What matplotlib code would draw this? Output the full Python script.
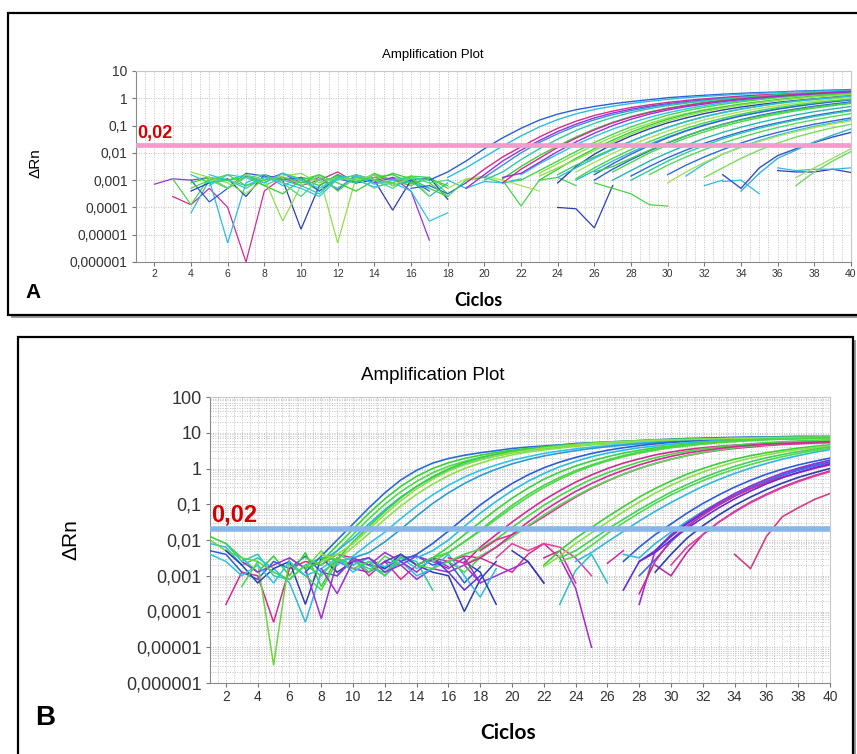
import numpy as np
import matplotlib
matplotlib.use("Agg")
import matplotlib.pyplot as plt
from matplotlib import font_manager
from matplotlib.patches import Rectangle
from matplotlib.ticker import FixedLocator, NullFormatter, MultipleLocator

W, H = 857, 754

# ---------------- data: panel A (log10 of delta Rn, one list per well) ----------------
a_threshold = 0.02
a_yticks = [1e-6, 1e-5, 1e-4, 1e-3, 1e-2, 1e-1, 1, 10]
a_ytick_labels = ["0,000001", "0,00001", "0,0001", "0,001", "0,01", "0,1", "1", "10"]
cycle_ticks = list(range(2, 41, 2))

a_amp_start = [17, 18, 19, 19, 20, 20, 21, 22, 22, 23, 24, 24, 25, 25, 26, 27, 27, 28, 29, 31, 32, 33, 34, 37, 37,
               21, 21, 23, 23, 24, 25, 26, 26, 28, 30, 30]
a_amp_logs = [
    [-3.0, -2.7, -2.3, -1.85, -1.45, -1.1, -0.8, -0.58, -0.42, -0.3, -0.2, -0.12, -0.05, 0.02, 0.07, 0.11, 0.15, 0.18, 0.21, 0.23, 0.26, 0.28, 0.3, 0.32],
    [-2.9, -2.55, -2.15, -1.75, -1.38, -1.05, -0.78, -0.57, -0.41, -0.29, -0.19, -0.11, -0.04, 0.02, 0.07, 0.11, 0.15, 0.18, 0.21, 0.24, 0.26, 0.28, 0.3],
    [-3.1, -2.6, -2.15, -1.78, -1.42, -1.1, -0.84, -0.63, -0.47, -0.34, -0.24, -0.15, -0.08, -0.02, 0.03, 0.08, 0.12, 0.15, 0.18, 0.2, 0.22, 0.24],
    [-3.3, -2.8, -2.3, -1.9, -1.55, -1.22, -0.95, -0.72, -0.54, -0.4, -0.29, -0.2, -0.12, -0.06, -0.01, 0.04, 0.08, 0.11, 0.14, 0.17, 0.19, 0.21],
    [-2.9, -2.45, -2.0, -1.62, -1.3, -1.02, -0.79, -0.6, -0.45, -0.33, -0.23, -0.15, -0.08, -0.02, 0.03, 0.07, 0.11, 0.14, 0.17, 0.2, 0.22],
    [-3.0, -2.7, -2.25, -1.85, -1.5, -1.18, -0.92, -0.7, -0.52, -0.38, -0.27, -0.18, -0.1, -0.03, 0.03, 0.08, 0.13, 0.17, 0.21, 0.24, 0.27],
    [-2.95, -2.5, -2.1, -1.75, -1.42, -1.13, -0.88, -0.67, -0.5, -0.36, -0.25, -0.15, -0.07, 0.0, 0.06, 0.11, 0.15, 0.19, 0.22, 0.25],
    [-2.8, -2.4, -2.05, -1.7, -1.4, -1.13, -0.9, -0.7, -0.53, -0.39, -0.27, -0.17, -0.09, -0.02, 0.04, 0.09, 0.13, 0.17, 0.2],
    [-3.0, -2.65, -2.3, -1.95, -1.62, -1.32, -1.05, -0.82, -0.62, -0.46, -0.33, -0.22, -0.13, -0.05, 0.02, 0.08, 0.13, 0.18, 0.22],
    [-2.75, -2.4, -2.05, -1.72, -1.42, -1.15, -0.92, -0.72, -0.56, -0.42, -0.31, -0.21, -0.13, -0.06, 0.0, 0.06, 0.11, 0.15],
    [-3.1, -2.5, -2.05, -1.68, -1.38, -1.12, -0.9, -0.72, -0.56, -0.43, -0.32, -0.23, -0.15, -0.08, -0.02, 0.04, 0.1],
    [-2.8, -2.45, -2.15, -1.85, -1.57, -1.3, -1.06, -0.85, -0.67, -0.52, -0.39, -0.28, -0.18, -0.1, -0.03, 0.03, 0.09],
    [-2.7, -2.35, -2.02, -1.72, -1.45, -1.2, -0.98, -0.79, -0.63, -0.49, -0.37, -0.27, -0.18, -0.1, -0.03, 0.03],
    [-3.0, -2.65, -2.3, -1.98, -1.68, -1.42, -1.18, -0.97, -0.79, -0.63, -0.5, -0.38, -0.28, -0.19, -0.11, -0.04],
    [-2.8, -2.4, -2.05, -1.73, -1.45, -1.2, -0.99, -0.81, -0.65, -0.52, -0.4, -0.3, -0.21, -0.13, -0.06],
    [-2.7, -2.35, -2.0, -1.72, -1.46, -1.23, -1.03, -0.86, -0.71, -0.58, -0.46, -0.36, -0.27, -0.19],
    [-3.0, -2.65, -2.3, -2.0, -1.72, -1.47, -1.25, -1.06, -0.89, -0.74, -0.61, -0.49, -0.39, -0.3],
    [-2.85, -2.5, -2.18, -1.9, -1.65, -1.43, -1.23, -1.05, -0.9, -0.76, -0.63, -0.52, -0.42],
    [-2.8, -2.45, -2.15, -1.88, -1.64, -1.43, -1.24, -1.07, -0.92, -0.79, -0.67, -0.56],
    [-2.85, -2.4, -2.05, -1.78, -1.55, -1.35, -1.18, -1.03, -0.9, -0.78],
    [-2.9, -2.55, -2.2, -1.9, -1.64, -1.42, -1.24, -1.08, -0.95],
    [-2.8, -3.3, -2.55, -2.1, -1.85, -1.62, -1.42, -1.25],
    [-3.4, -2.75, -2.2, -1.9, -1.6, -1.35, -1.12],
    [-3.2, -2.7, -2.3, -1.95],
    [-2.9, -2.55, -2.2, -1.85],
    [-3.1, -2.6, -2.2, -1.8, -1.46, -1.16, -0.9, -0.69, -0.52, -0.38, -0.27, -0.17, -0.09, -0.02, 0.04, 0.09, 0.14, 0.18, 0.22, 0.26],
    [-2.9, -2.75, -2.35, -1.95, -1.6, -1.28, -1.0, -0.77, -0.58, -0.43, -0.31, -0.21, -0.12, -0.05, 0.01, 0.07, 0.12, 0.16, 0.2, 0.23],
    [-3.0, -2.6, -2.2, -1.85, -1.53, -1.24, -0.99, -0.77, -0.59, -0.44, -0.32, -0.22, -0.13, -0.05, 0.02, 0.08, 0.13, 0.18],
    [-2.85, -2.55, -2.25, -1.92, -1.6, -1.31, -1.05, -0.83, -0.64, -0.49, -0.36, -0.25, -0.16, -0.08, -0.01, 0.05, 0.1, 0.15],
    [-2.9, -2.55, -2.2, -1.88, -1.58, -1.31, -1.07, -0.86, -0.68, -0.53, -0.4, -0.29, -0.19, -0.11, -0.04, 0.02, 0.08],
    [-2.95, -2.55, -2.2, -1.88, -1.59, -1.33, -1.1, -0.9, -0.73, -0.58, -0.45, -0.34, -0.24, -0.16, -0.09, -0.03],
    [-3.0, -2.6, -2.25, -1.93, -1.64, -1.38, -1.15, -0.95, -0.78, -0.63, -0.5, -0.39, -0.29, -0.21, -0.13],
    [-2.7, -2.5, -2.2, -1.9, -1.62, -1.37, -1.15, -0.96, -0.8, -0.66, -0.53, -0.42, -0.32, -0.24, -0.17],
    [-3.0, -2.65, -2.3, -2.0, -1.73, -1.49, -1.28, -1.1, -0.94, -0.8, -0.67, -0.56, -0.46],
    [-2.8, -2.45, -2.15, -1.88, -1.64, -1.43, -1.25, -1.09, -0.95, -0.83, -0.72],
    [-3.1, -2.7, -2.35, -2.05, -1.8, -1.58, -1.39, -1.22, -1.07, -0.94, -0.83],
]

a_noise_start = [2, 3, 3, 4, 4, 4, 5, 4, 14, 6, 5, 16, 21, 24, 26, 32, 33, 36, 36,
                 4, 4, 5, 4, 5, 17, 18, 18]
a_noise_logs = [
    [-3.15, -2.95, -3.0, -2.9, -3.3, -2.85, -3.0, -2.75, -3.1, -2.9, -3.35, -2.8, -3.0, -2.95, -3.1],
    [-3.6, -3.9, -3.3, -4.0, -6.0, -3.4, -2.9, -3.2, -3.0, -2.7, -3.1, -2.9, -3.0, -3.2],
    [-2.95, -3.9, -2.9, -3.3, -2.8, -3.2, -2.9, -3.0, -3.4, -2.85, -3.1, -2.75, -3.0, -3.2, -2.9, -3.5],
    [-4.2, -3.0, -5.3, -3.1, -2.8, -3.2, -2.9, -3.0, -3.3, -2.85, -3.1, -2.9, -3.0, -3.6, -3.1],
    [-3.4, -3.1, -2.95, -3.6, -2.8, -3.0, -4.8, -3.2, -2.8, -3.1, -3.0, -4.1, -3.0, -2.9, -3.7],
    [-3.0, -3.8, -3.3, -2.75, -2.85, -3.0, -2.9, -3.4, -2.95, -3.1, -2.8, -3.2, -3.0, -3.4],
    [-2.9, -3.1, -3.5, -2.95, -4.5, -3.2, -2.85, -5.3, -2.9, -3.3, -3.0, -2.85, -3.6],
    [-2.8, -3.1, -3.0, -3.3, -2.9, -3.0, -3.2, -3.5, -2.9, -3.1, -2.8, -3.0, -3.1, -3.3],
    [-3.1, -2.9, -3.4, -5.2],
    [-3.0, -2.9, -3.2, -3.5, -3.0, -2.8, -3.1, -3.4, -3.0, -2.75, -2.95, -3.3, -3.6],
    [-2.8, -3.0, -3.2, -2.9, -3.1, -3.3, -3.6, -2.95, -3.0, -3.25, -3.1, -3.4, -4.5, -4.2],
    [-3.3, -3.2, -3.5, -3.1],
    [-3.0, -3.95, -3.0, -2.9, -3.2],
    [-4.0, -4.05, -4.75, -3.2],
    [-3.1, -3.3, -3.5, -3.9, -3.95],
    [-3.2, -3.0],
    [-3.05, -3.0, -3.5],
    [-2.65, -2.7, -2.7, -2.6, -2.72],
    [-2.55, -2.65, -2.6, -2.6, -2.55],
    [-3.1, -2.9, -3.0, -2.8, -3.1, -2.75, -2.95, -3.2, -2.8, -3.05, -2.9, -2.8, -3.1, -2.95, -3.2],
    [-2.7, -2.9, -3.3, -2.8, -3.0, -2.85, -2.75, -3.1, -2.9, -3.0, -2.8, -3.2, -2.9, -3.0],
    [-3.2, -2.8, -2.9, -3.1, -2.75, -3.0, -3.3, -2.9, -2.85, -3.15, -3.0, -2.9, -3.0],
    [-3.3, -3.0, -2.8, -3.2, -3.0, -2.9, -3.1, -2.8, -3.4, -2.9, -3.0, -3.1, -2.85, -2.9, -3.3],
    [-3.0, -3.3, -2.9, -2.8, -3.1, -3.6, -2.95, -3.0, -2.8, -3.0, -3.3, -2.9, -3.1, -3.0],
    [-3.1, -3.6, -3.0, -2.9, -3.1, -3.0],
    [-3.0, -3.3, -3.05, -3.1, -2.95],
    [-3.3, -2.95, -2.85, -3.0, -3.2, -3.4],
]

# ---------------- data: panel B ----------------
b_threshold = 0.02
b_yticks = [1e-6, 1e-5, 1e-4, 1e-3, 1e-2, 1e-1, 1, 10, 100]
b_ytick_labels = ["0,000001", "0,00001", "0,0001", "0,001", "0,01", "0,1", "1", "10", "100"]

b_amp_start = [7, 7, 7, 8, 8, 9, 10, 13, 14, 14, 15, 16, 16, 18, 17, 22, 22, 23, 24, 27, 27, 28, 27, 28, 28, 29, 30, 34,
               8, 8, 15, 17, 23, 28, 29]
b_amp_logs = [
    [-2.9, -2.45, -2.0, -1.55, -1.1, -0.68, -0.32, -0.05, 0.15, 0.28, 0.37, 0.44, 0.5, 0.56, 0.6, 0.63, 0.66, 0.7, 0.72, 0.74, 0.76, 0.78, 0.8, 0.82, 0.84, 0.85, 0.86, 0.87, 0.88, 0.88, 0.89, 0.9, 0.9, 0.9],
    [-2.8, -2.6, -2.15, -1.7, -1.25, -0.85, -0.5, -0.22, 0.0, 0.16, 0.28, 0.37, 0.45, 0.51, 0.56, 0.6, 0.64, 0.67, 0.7, 0.72, 0.74, 0.76, 0.78, 0.79, 0.8, 0.81, 0.82, 0.83, 0.84, 0.85, 0.85, 0.86, 0.86, 0.87],
    [-2.5, -2.7, -2.3, -1.85, -1.4, -1.0, -0.65, -0.36, -0.12, 0.06, 0.2, 0.31, 0.4, 0.47, 0.53, 0.58, 0.62, 0.66, 0.69, 0.72, 0.74, 0.76, 0.78, 0.8, 0.81, 0.82, 0.83, 0.84, 0.85, 0.86, 0.86, 0.87, 0.87, 0.88],
    [-2.6, -2.3, -1.95, -1.55, -1.15, -0.8, -0.5, -0.25, -0.05, 0.12, 0.25, 0.35, 0.44, 0.5, 0.56, 0.6, 0.64, 0.68, 0.71, 0.74, 0.76, 0.78, 0.8, 0.81, 0.82, 0.83, 0.84, 0.85, 0.86, 0.87, 0.87, 0.88, 0.88],
    [-2.4, -2.55, -2.2, -1.82, -1.42, -1.05, -0.72, -0.44, -0.2, 0.0, 0.15, 0.28, 0.38, 0.46, 0.52, 0.57, 0.62, 0.66, 0.69, 0.72, 0.74, 0.76, 0.78, 0.8, 0.81, 0.82, 0.83, 0.84, 0.85, 0.86, 0.86, 0.87, 0.87],
    [-2.7, -2.45, -2.1, -1.78, -1.4, -1.05, -0.74, -0.47, -0.24, -0.05, 0.1, 0.23, 0.33, 0.42, 0.49, 0.55, 0.6, 0.64, 0.68, 0.71, 0.74, 0.76, 0.78, 0.8, 0.81, 0.82, 0.83, 0.84, 0.85, 0.86, 0.86, 0.87],
    [-2.5, -2.35, -2.05, -1.7, -1.33, -0.98, -0.68, -0.42, -0.2, -0.02, 0.13, 0.25, 0.35, 0.43, 0.5, 0.56, 0.61, 0.65, 0.69, 0.72, 0.75, 0.77, 0.79, 0.81, 0.82, 0.83, 0.84, 0.85, 0.86, 0.87, 0.87],
    [-2.6, -2.4, -2.1, -1.75, -1.38, -1.02, -0.7, -0.42, -0.18, 0.02, 0.18, 0.31, 0.42, 0.51, 0.58, 0.64, 0.69, 0.73, 0.76, 0.79, 0.81, 0.83, 0.84, 0.85, 0.86, 0.87, 0.88, 0.88],
    [-2.5, -2.3, -2.0, -1.62, -1.25, -0.92, -0.62, -0.36, -0.14, 0.05, 0.2, 0.33, 0.43, 0.51, 0.58, 0.63, 0.68, 0.72, 0.75, 0.78, 0.8, 0.82, 0.83, 0.84, 0.85, 0.86, 0.87],
    [-2.7, -2.5, -2.2, -1.85, -1.5, -1.15, -0.83, -0.55, -0.3, -0.1, 0.07, 0.21, 0.33, 0.43, 0.51, 0.58, 0.63, 0.68, 0.72, 0.75, 0.78, 0.8, 0.82, 0.83, 0.84, 0.85, 0.86],
    [-2.6, -2.35, -2.05, -1.75, -1.42, -1.1, -0.8, -0.53, -0.3, -0.1, 0.07, 0.21, 0.33, 0.43, 0.51, 0.58, 0.63, 0.68, 0.72, 0.75, 0.78, 0.8, 0.82, 0.83, 0.84, 0.85],
    [-2.5, -2.65, -2.2, -1.85, -1.5, -1.18, -0.88, -0.62, -0.38, -0.18, 0.0, 0.15, 0.27, 0.38, 0.46, 0.53, 0.58, 0.62, 0.65, 0.68, 0.7, 0.72, 0.73, 0.74, 0.75],
    [-2.6, -2.4, -2.25, -1.98, -1.65, -1.33, -1.03, -0.76, -0.52, -0.3, -0.12, 0.04, 0.18, 0.3, 0.4, 0.48, 0.55, 0.6, 0.65, 0.69, 0.72, 0.75, 0.77, 0.79, 0.8],
    [-2.3, -2.0, -1.85, -1.62, -1.35, -1.07, -0.8, -0.56, -0.35, -0.16, 0.0, 0.14, 0.26, 0.36, 0.44, 0.51, 0.56, 0.6, 0.64, 0.67, 0.69, 0.71, 0.72],
    [-2.7, -2.45, -2.2, -1.92, -1.6, -1.3, -1.02, -0.77, -0.54, -0.34, -0.16, 0.0, 0.14, 0.26, 0.36, 0.45, 0.52, 0.58, 0.63, 0.67, 0.71, 0.74, 0.76, 0.78],
    [-2.7, -2.3, -1.95, -1.65, -1.35, -1.07, -0.8, -0.56, -0.35, -0.16, 0.0, 0.14, 0.26, 0.36, 0.44, 0.51, 0.57, 0.62, 0.66],
    [-2.75, -2.45, -2.1, -1.8, -1.5, -1.21, -0.94, -0.69, -0.47, -0.27, -0.1, 0.05, 0.18, 0.29, 0.38, 0.46, 0.53, 0.58, 0.63],
    [-2.5, -2.3, -2.0, -1.7, -1.42, -1.15, -0.9, -0.66, -0.45, -0.26, -0.09, 0.06, 0.19, 0.3, 0.39, 0.47, 0.54, 0.6],
    [-2.6, -2.35, -2.05, -1.76, -1.47, -1.2, -0.95, -0.72, -0.5, -0.31, -0.14, 0.01, 0.14, 0.26, 0.36, 0.45, 0.53],
    [-2.6, -2.2, -1.85, -1.55, -1.25, -0.98, -0.74, -0.52, -0.33, -0.16, -0.02, 0.1, 0.2, 0.29],
    [-2.4, -2.5, -2.1, -1.78, -1.48, -1.2, -0.95, -0.72, -0.5, -0.31, -0.15, 0.0, 0.12, 0.23],
    [-3.8, -2.3, -1.85, -1.52, -1.22, -0.95, -0.7, -0.49, -0.3, -0.13, 0.01, 0.13, 0.23],
    [-3.4, -2.6, -2.3, -1.9, -1.55, -1.26, -1.0, -0.76, -0.55, -0.36, -0.19, -0.04, 0.08, 0.18],
    [-3.0, -2.55, -2.05, -1.63, -1.3, -1.02, -0.77, -0.55, -0.36, -0.19, -0.05, 0.07, 0.17],
    [-3.5, -2.6, -2.0, -1.62, -1.3, -1.02, -0.78, -0.57, -0.39, -0.24, -0.12, 0.0, 0.1],
    [-2.7, -3.0, -2.35, -1.85, -1.5, -1.2, -0.94, -0.72, -0.52, -0.35, -0.2, -0.07],
    [-2.7, -2.2, -1.85, -1.5, -1.22, -0.96, -0.74, -0.54, -0.37, -0.22, -0.09],
    [-2.4, -2.8, -1.9, -1.35, -1.1, -0.87, -0.7],
    [-2.5, -2.55, -2.05, -1.62, -1.2, -0.82, -0.5, -0.23, -0.01, 0.17, 0.3, 0.4, 0.48, 0.55, 0.6, 0.64, 0.68, 0.71, 0.74, 0.76, 0.78, 0.8, 0.81, 0.82, 0.83, 0.84, 0.85, 0.86, 0.86, 0.87, 0.87, 0.88, 0.88],
    [-2.6, -2.4, -2.1, -1.7, -1.28, -0.9, -0.57, -0.3, -0.07, 0.1, 0.24, 0.35, 0.44, 0.51, 0.57, 0.62, 0.66, 0.7, 0.73, 0.75, 0.77, 0.79, 0.8, 0.81, 0.82, 0.83, 0.84, 0.85, 0.86, 0.86, 0.87, 0.87, 0.87],
    [-2.5, -2.35, -2.05, -1.72, -1.37, -1.03, -0.73, -0.47, -0.25, -0.06, 0.1, 0.24, 0.36, 0.46, 0.54, 0.61, 0.66, 0.71, 0.75, 0.78, 0.8, 0.82, 0.83, 0.84, 0.85, 0.86],
    [-2.7, -2.5, -2.2, -1.85, -1.5, -1.18, -0.9, -0.64, -0.42, -0.22, -0.05, 0.1, 0.23, 0.34, 0.43, 0.5, 0.56, 0.61, 0.65, 0.68, 0.7, 0.72, 0.74, 0.75],
    [-2.6, -2.45, -2.15, -1.82, -1.52, -1.24, -0.98, -0.74, -0.53, -0.34, -0.17, -0.02, 0.11, 0.23, 0.33, 0.42, 0.5, 0.56],
    [-2.6, -2.35, -2.0, -1.68, -1.38, -1.1, -0.85, -0.63, -0.43, -0.26, -0.11, 0.02, 0.13],
    [-2.9, -2.4, -1.95, -1.6, -1.3, -1.03, -0.8, -0.59, -0.41, -0.25, -0.12, 0.0],
]

b_noise_start = [1, 1, 1, 2, 1, 2, 3, 2, 10, 17, 19, 20, 23, 23, 22, 26, 6, 9,
                 1, 3, 8, 12]
b_noise_logs = [
    [-2.3, -2.4, -2.9, -3.1, -2.6, -2.8, -2.45, -2.9, -3.0, -2.55, -2.7, -2.8, -2.5, -2.45, -2.7, -2.6, -3.2, -2.75],
    [-1.9, -2.1, -2.5, -2.9, -2.45, -3.0, -2.35, -3.3, -2.5, -2.7],
    [-2.1, -2.2, -2.7, -2.5, -2.8, -3.2, -4.3, -2.9, -2.6, -2.5, -2.7, -3.0, -2.6],
    [-3.8, -2.9, -3.0, -4.3, -2.8, -2.6, -2.7, -2.4, -2.5, -3.0, -2.6, -3.1, -2.7, -2.5, -2.6, -2.45, -2.5, -2.7, -2.9, -2.4, -2.1, -2.5],
    [-2.0, -2.3, -2.5, -2.6, -5.5, -2.5, -2.8, -2.3, -2.9],
    [-2.3, -2.7, -3.2, -2.8, -2.6, -3.8, -2.5, -2.9, -2.6, -2.5, -2.8, -2.4, -2.7, -2.9, -3.0, -4.0, -3.1, -2.6],
    [-2.6, -2.9, -2.7, -2.5, -2.8, -4.2, -2.6, -2.8, -2.9, -2.6, -2.7, -3.1, -2.8, -2.9, -2.7, -3.2, -3.0, -2.8, -2.6, -3.2],
    [-2.1, -2.6, -2.4, -3.0, -3.1, -2.7, -2.5, -2.4, -2.6, -2.8, -2.9, -2.5, -2.6, -3.4],
    [-2.7, -2.5, -2.9, -2.6, -3.0, -2.8, -2.4, -3.0, -3.6, -2.8],
    [-2.6, -2.9, -3.8],
    [-2.5, -2.1, -2.3, -2.1, -2.2, -2.5, -3.0],
    [-2.3, -2.6, -3.2],
    [-2.5, -3.35, -5.0],
    [-3.8, -2.85, -2.4, -3.2],
    [-2.5, -2.3, -3.2],
    [-2.65, -2.3],
    [-2.7, -3.0, -3.4, -2.6, -2.5, -2.9, -2.45, -2.7],
    [-3.0, -2.5, -2.7, -2.35, -2.6, -2.9, -2.5, -2.75],
    [-2.4, -2.6, -3.0, -2.7, -3.2, -2.6, -3.0, -2.8, -2.5, -2.9, -2.6, -2.75, -2.5, -2.8, -2.55],
    [-3.3, -2.6, -2.9, -3.1, -2.7, -3.0, -2.5, -2.8, -2.6, -3.0, -2.45, -2.7, -2.8, -2.6, -2.9, -2.5],
    [-2.8, -3.5, -2.6, -2.5, -2.9, -2.7, -2.45, -2.6, -2.8, -2.5, -3.2],
    [-2.6, -2.4, -2.7, -2.5, -2.9, -3.4, -3.0],
]

# ---------------- styling ----------------
palette = ["#2b5fd9", "#2bbde0", "#d42a96", "#9b30d9", "#3a8ee6", "#2fc9a5",
           "#35d135", "#29c6e6", "#46d646", "#8fe04a", "#2c3fb0", "#3ccf52",
           "#a6e35a", "#30b8dc", "#3363d6", "#50d84a", "#27b7b0", "#2e6ad8",
           "#55d95a", "#35c0e2", "#7ddc5a", "#3050c8", "#36b4d4", "#70d860", "#9ee06a",
           "#d42a96", "#9b30d9", "#35d135", "#8fe04a", "#2bbde0", "#46d646", "#2b5fd9",
           "#3ccf52", "#2fc9a5", "#2e6ad8", "#a6e35a"]
palette_b = ["#2b6bd9", "#3bd13b", "#4fdc45", "#29b5e0", "#8ee04a", "#33c4e6", "#2a9fd0",
             "#2b5fd9", "#2bbde0", "#3ad33a", "#52d94e", "#d42a96", "#46d646", "#d93a8f",
             "#5ad85a", "#3ccf3c", "#8ee04a", "#3ed35a", "#2fb9de", "#2b5fd9", "#2bbde0",
             "#9b30d9", "#5b32d6", "#3a6ee6", "#d42a96", "#c02aa8", "#e0409a", "#d4407f",
             "#3ad33a", "#8ee04a", "#46d646", "#d42a96", "#52d94e", "#6a2ad6", "#2c3fb0"]
noise_pal = ["#9b30d9", "#d42a96", "#46d646", "#2bbde0", "#2c3fb0", "#2b5fd9", "#8fe04a",
             "#2fc9a5", "#9b30d9", "#35d135", "#29c6e6", "#2b5fd9", "#46d646", "#2c3fb0",
             "#46d646", "#2bbde0", "#2bbde0", "#2c3fb0", "#2bbde0",
             "#35d135", "#8fe04a", "#29c6e6", "#46d646", "#4fd680", "#46d646", "#2bbde0", "#a6e35a"]
noise_pal_b = ["#2b5fd9", "#35d135", "#2bbde0", "#d42a96", "#6ad83a", "#2c3fb0", "#9b30d9",
               "#2fc9a5", "#2bbde0", "#2c3fb0", "#e0409a", "#2c3fb0", "#a02ad0", "#2bc0c8",
               "#d42a96", "#d42a96", "#46d646", "#9b30d9",
               "#29c6e6", "#46d646", "#9b30d9", "#5b32d6"]

names = {f.name for f in font_manager.fontManager.ttflist}
sans = "Liberation Sans"
bold_sans = "Lato" if "Lato" in names else "DejaVu Sans"

fig = plt.figure(figsize=(W / 100, H / 100), dpi=100)


def fx(px):
    return px / W


def fy(py):
    return 1 - py / H


def frame(x0, y0, x1, y1):
    # drop shadow + black border, like the pasted panels (kept behind the axes)
    fig.patches.append(Rectangle((fx(x0 + 3), fy(y1 + 3)), fx(x1 - x0), (y1 - y0) / H,
                                 transform=fig.transFigure, facecolor="#9a9a9a",
                                 edgecolor="none", zorder=-3))
    fig.patches.append(Rectangle((fx(x0), fy(y1)), fx(x1 - x0), (y1 - y0) / H,
                                 transform=fig.transFigure, facecolor="white",
                                 edgecolor="black", lw=1.6, zorder=-2))


frame(8, 13, 880, 315)
frame(18, 337, 853, 800)


def setup(ax, ylim, yticks, ylabels, ysize, xsize, thr, thr_color, thr_lw, thr_size):
    ax.set_yscale("log")
    ax.set_xlim(1, 40)
    ax.set_ylim(*ylim)
    ax.set_facecolor("white")
    ax.xaxis.set_major_locator(FixedLocator(cycle_ticks))
    ax.xaxis.set_minor_locator(MultipleLocator(0.5))
    ax.set_xticklabels([str(c) for c in cycle_ticks], fontsize=xsize, color="#333333", family=sans)
    ax.yaxis.set_major_locator(FixedLocator(yticks))
    ax.set_yticklabels(ylabels, fontsize=ysize, color="#333333", family=sans)
    ax.yaxis.set_minor_formatter(NullFormatter())
    ax.grid(True, which="both", axis="both", color="#c2c2c2", linestyle=(0, (1, 1.5)), lw=0.7)
    ax.tick_params(axis="x", which="major", length=3, color="#777777", pad=2)
    ax.tick_params(axis="x", which="minor", length=0)
    ax.tick_params(axis="y", which="major", length=3, color="#777777", pad=3)
    ax.tick_params(axis="y", which="minor", length=0)
    for s in ("left", "bottom"):
        ax.spines[s].set_color("#8a8a8a")
    for s in ("top", "right"):
        ax.spines[s].set_color("#c8c8c8")
    ax.axhline(thr, color=thr_color, lw=thr_lw, zorder=5)
    ax.text(1.05, thr * 1.2, "0,02", color="#d20000", fontsize=thr_size, fontweight="bold",
            ha="left", va="bottom", zorder=6, family=sans)


def draw(ax, starts, logs, colors, lw):
    for i, (s, v) in enumerate(zip(starts, logs)):
        x = np.arange(s, s + len(v))
        ax.plot(x, 10 ** np.array(v), color=colors[i % len(colors)], lw=lw, zorder=3,
                solid_joinstyle="miter")


# panel A
axA = fig.add_axes([fx(136), fy(262), fx(851 - 136), (262 - 71) / H])
setup(axA, (1e-6, 10), a_yticks, a_ytick_labels, 10, 7.5, a_threshold, "#f29ccb", 3.4, 13)
draw(axA, a_noise_start, a_noise_logs, noise_pal, 0.9)
draw(axA, a_amp_start, a_amp_logs, palette, 1.0)
fig.text(fx(433), fy(55), "Amplification Plot", ha="center", va="center", fontsize=9.5, family=sans)
fig.text(fx(35), fy(163), "ΔRn", ha="center", va="center", rotation=90, fontsize=11, family=sans)
fig.text(fx(33), fy(293), "A", ha="center", va="center", fontsize=15, fontweight="bold", family=sans)
fig.text(fx(478), fy(300), "Ciclos", ha="center", va="center", fontsize=13, fontweight="bold", family=bold_sans)

# panel B
axB = fig.add_axes([fx(210), fy(683), fx(830 - 210), (683 - 397) / H])
setup(axB, (1e-6, 100), b_yticks, b_ytick_labels, 13, 10, b_threshold, "#86b6ea", 4.0, 17)
draw(axB, b_noise_start, b_noise_logs, noise_pal_b, 1.1)
draw(axB, b_amp_start, b_amp_logs, palette_b, 1.2)
fig.text(fx(433), fy(375), "Amplification Plot", ha="center", va="center", fontsize=13.5, family=sans)
fig.text(fx(71), fy(540), "ΔRn", ha="center", va="center", rotation=90, fontsize=15, family=sans)
fig.text(fx(45), fy(718), "B", ha="center", va="center", fontsize=20, fontweight="bold", family=sans)
fig.text(fx(508), fy(733), "Ciclos", ha="center", va="center", fontsize=15, fontweight="bold", family=bold_sans)

fig.savefig("out.png", dpi=100)
